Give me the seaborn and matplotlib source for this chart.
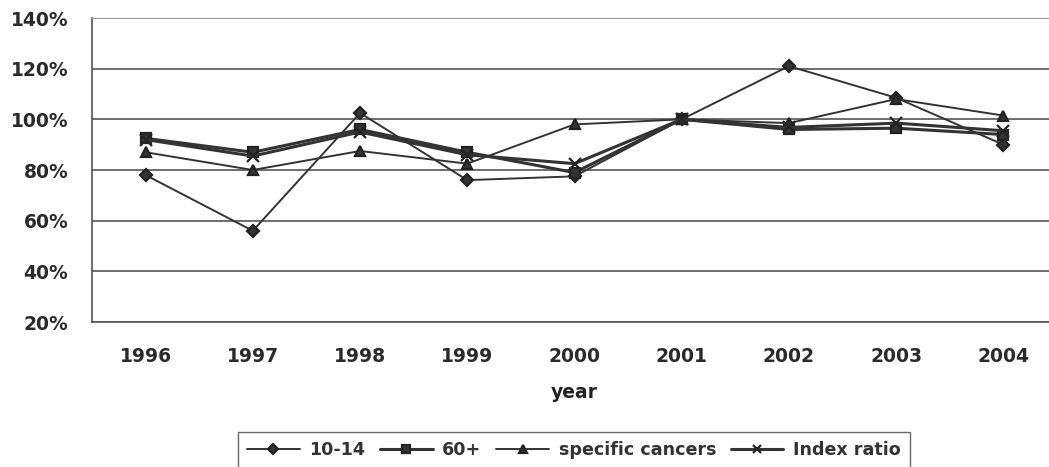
import numpy as np
import pandas as pd
import matplotlib.pyplot as plt
import seaborn as sns
from matplotlib.ticker import FuncFormatter

# Data (fraction of 2001 level)
years = ["1996", "1997", "1998", "1999", "2000", "2001", "2002", "2003", "2004"]
age_10_14 = [0.78, 0.56, 1.025, 0.76, 0.775, 1.00, 1.21, 1.085, 0.90]
age_60_plus = [0.925, 0.87, 0.96, 0.87, 0.79, 1.00, 0.96, 0.965, 0.94]
specific_cancers = [0.87, 0.80, 0.875, 0.825, 0.98, 1.00, 0.985, 1.08, 1.015]
index_ratio = [0.92, 0.855, 0.95, 0.86, 0.825, 1.00, 0.968, 0.985, 0.955]

series_names = ["10-14", "60+", "specific cancers", "Index ratio"]
series_values = [age_10_14, age_60_plus, specific_cancers, index_ratio]
markers = ["D", "s", "^", "x"]
marker_sizes = [6, 7, 7, 8]
line_widths = [1.4, 2.2, 1.4, 2.2]

sns.set_style("white")
plt.rcParams["font.family"] = ["DejaVu Sans"]
plt.rcParams["font.weight"] = "bold"
fs = 13.5

W, H = 1049, 467
fig = plt.figure(figsize=(W / 100, H / 100), dpi=100)
# plot area runs past the right edge of the image, as in the scan
ax = fig.add_axes([92 / W, 1 - 322 / H, (1057 - 92) / W, (322 - 18) / H])

pos = np.arange(len(years))
for name, vals, m, ms, lw in zip(series_names, series_values, markers, marker_sizes, line_widths):
    sns.lineplot(x=pos, y=vals, marker=m, markersize=ms, color="#333333",
                 linewidth=lw, markeredgecolor="#222222", markeredgewidth=1.6,
                 label=name, ax=ax)

ax.set_xlim(-0.5, len(years) - 0.5)
ax.set_ylim(0.2, 1.4)
ax.set_yticks(np.arange(0.2, 1.41, 0.2))
ax.yaxis.set_major_formatter(FuncFormatter(lambda v, p: f"{v * 100:.0f}%"))
ax.set_xticks(pos)
ax.set_xticklabels(years)
ax.set_xticks(np.arange(-0.5, len(years), 1), minor=True)
ax.tick_params(axis="x", which="major", length=0, pad=18, labelsize=fs, labelcolor="#2a2a2a")
ax.tick_params(axis="x", which="minor", length=6, color="#555555", direction="out")
ax.tick_params(axis="y", length=6, color="#555555", direction="out", labelsize=fs,
               pad=11, labelcolor="#2a2a2a")
ax.yaxis.grid(True, color="#555555", linewidth=1.2)
ax.set_axisbelow(True)
ax.spines["top"].set_color("#999999")
ax.spines["top"].set_linestyle((0, (2, 1)))
ax.spines["right"].set_visible(False)
for s in ["left", "bottom"]:
    ax.spines[s].set_color("#555555")
    ax.spines[s].set_linewidth(1.2)

ax.set_xlabel("year", fontsize=fs, fontweight="bold", labelpad=12, color="#222222")
ax.set_ylabel("")

handles, labels = ax.get_legend_handles_labels()
leg = ax.legend(handles, labels, loc="upper center", bbox_to_anchor=(574 / W, 1 - 432 / H),
                bbox_transform=fig.transFigure, ncol=4, frameon=True, fancybox=False,
                edgecolor="#444444", fontsize=12.6, handlelength=3.0, handletextpad=0.55,
                columnspacing=0.85, borderpad=0.5, borderaxespad=0, markerscale=0.8)
for t in leg.get_texts():
    t.set_color("#333333")

fig.savefig("out.png", dpi=100)
